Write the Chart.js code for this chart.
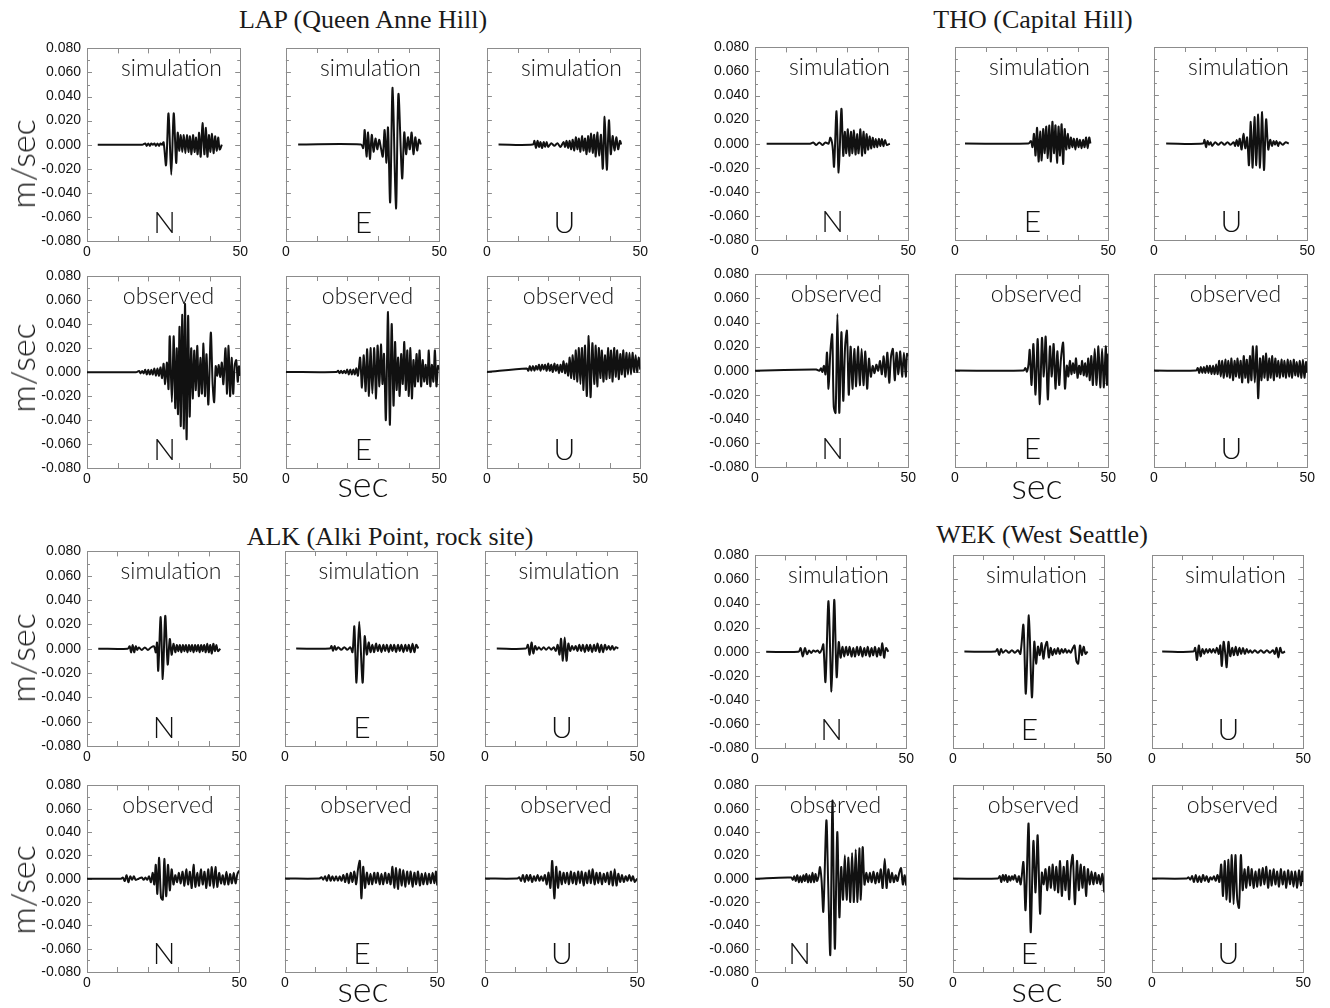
<!DOCTYPE html>
<html>
<head>
<meta charset="utf-8">
<script src="https://cdn.jsdelivr.net/npm/chart.js@4.4.1/dist/chart.umd.min.js"></script>
<style>
  body { margin: 0; background: #fff; width: 1330px; height: 1008px; position: relative; overflow: hidden; font-family: Lato, "Noto Sans", sans-serif; }
  canvas { position: absolute; }
  .t { position: absolute; white-space: nowrap; transform: translate(-50%, -50%); color: #111; line-height: 1; }
  .title { font-family: "Liberation Serif", "Times New Roman", serif; font-size: 26px; color: #1a1a1a; }
  .lbl { font-size: 23px; font-weight: 300; }
  .comp { font-size: 30px; font-weight: 300; }
  .ax { font-size: 36px; font-weight: 300; }
  .yt { transform: translate(-50%, -50%) rotate(-90deg); font-size: 34px; }
</style>
</head>
<body>
<script>
// values in mm/s (axis labels show m/s), time in sec: [t, v]
const lapSimN = [[3.5,0],[18,0],[19,1],[19.5,-1],[20,1],[20.5,-1],[21,1],[21.5,0],[22,1],[22.5,-1],[23,1],[23.5,-1],[24,1],[24.5,0],[25,2],[25.8,-17],[26.6,26],[27.5,-25],[28.3,26],[29.1,-15],[29.6,10],[30.1,-5],[30.6,8],[31.1,-6],[31.6,8],[32.1,-7],[32.6,8],[33.1,-6],[33.6,7],[34.1,-8],[34.6,8],[35.1,-6],[35.6,6],[36.1,-8],[36.6,10],[37.1,-10],[37.7,18],[38.3,-8],[38.8,14],[39.3,-10],[39.8,8],[40.3,-6],[40.8,9],[41.3,-7],[41.8,7],[42.3,-5],[42.8,6],[43.3,-4],[44,0]];
const lapSimE = [[4,0],[24.5,0],[25.2,-3],[25.7,12],[26.3,-10],[26.8,10],[27.4,-12],[28,8],[28.6,-6],[29.2,5],[29.8,-4],[30.4,4],[31,-3],[31.6,-10],[32.2,12],[32.8,-15],[33.3,14],[34,-48],[34.8,47],[35.9,-53],[36.7,42],[37.9,-28],[38.6,10],[39.2,-8],[39.8,6],[40.4,-4],[41,10],[41.6,-8],[42.2,6],[42.8,-5],[43.4,4],[44,0]];
const lapSimU = [[3.8,0],[15,0],[15.5,3],[16,-3],[16.5,3],[17,-2],[17.5,2],[18,-3],[18.5,2],[19,-2],[19.5,2],[20,-2],[21,1],[22,-1],[23,1],[24,-2],[25,2],[25.5,-2],[26,3],[26.5,-3],[27,3],[27.5,-4],[28,4],[28.5,-5],[29,6],[29.5,-4],[30,5],[30.5,-6],[31,7],[31.5,-5],[32,5],[32.5,-8],[33,7],[33.5,-6],[34,9],[34.5,-7],[35,8],[35.5,-10],[36,10],[36.6,-9],[37.2,8],[37.8,-20],[38.4,23],[39.1,-21],[39.8,20],[40.4,-8],[41,7],[41.6,-5],[42.2,6],[42.8,-4],[43.4,3],[43.8,0]];
const lapObsN = [[0,0],[16,0],[17,1],[17.5,-1],[18,1],[18.5,-1],[19,2],[19.5,-2],[20,2],[20.5,-2],[21,2],[21.5,-2],[22,3],[22.5,-3],[23,3],[23.5,-3],[24,4],[24.5,-5],[25,7],[25.5,-10],[26.1,8],[26.6,-14],[27,30],[27.7,-25],[28.3,30],[28.8,-30],[29.3,20],[29.7,-35],[30.2,38],[30.6,-45],[31.1,48],[31.6,-47],[32,57],[32.5,-56],[33,47],[33.5,-37],[34,20],[34.5,-22],[35,18],[35.5,-15],[36,22],[36.5,-20],[37,12],[37.5,-18],[38,24],[38.5,-20],[39,15],[39.6,-27],[40.4,33],[41,-10],[41.5,-25],[42,5],[42.5,-3],[43,6],[43.5,-4],[44,8],[44.5,-10],[45.2,20],[45.7,-18],[46.2,22],[46.7,-20],[47.2,12],[47.7,-18],[48.2,6],[48.7,10],[49.2,-8],[49.6,5],[50,-3]];
const lapObsE = [[0,0],[16.5,0],[17,1],[17.5,-1],[18,1],[18.5,-1],[19,1],[19.5,-1],[20,2],[20.5,-2],[21,2],[21.5,-2],[22,2],[22.5,-2],[23,3],[23.5,-3],[24.2,12],[24.8,-13],[25.4,14],[26,-16],[26.5,19],[27.1,-20],[27.6,20],[28.2,-18],[28.8,20],[29.4,-22],[29.9,22],[30.5,-12],[31,23],[31.5,-10],[32,15],[32.6,-40],[33.3,50],[33.9,-44],[34.5,40],[35.1,-28],[35.6,25],[36.1,-15],[36.6,12],[37.1,-20],[37.6,15],[38.1,-10],[38.6,25],[39.1,-15],[39.6,18],[40.1,-20],[40.6,20],[41.1,-22],[41.6,10],[42.1,-12],[42.6,15],[43.1,-8],[43.6,18],[44.1,-12],[44.6,10],[45.1,-8],[45.6,6],[46.1,-10],[46.6,18],[47.1,-12],[47.6,6],[48.1,-8],[48.6,18],[49.1,-12],[49.6,5],[50,2]];
const lapObsU = [[0,0],[13,3],[13.5,1],[14,5],[14.5,1],[15,5],[15.5,1],[16,5],[16.5,2],[17,6],[17.5,1],[18,6],[18.5,2],[19,6],[19.5,1],[20,7],[20.5,1],[21,6],[21.5,0],[22,7],[22.5,1],[23,6],[23.5,-1],[24,6],[24.5,0],[25,9],[25.5,-1],[26,7],[26.5,-3],[27,12],[27.5,-5],[28,14],[28.5,-6],[29,18],[29.5,-8],[30,20],[30.5,-10],[31,20],[31.5,-15],[32,22],[32.6,-20],[33.2,30],[33.8,-21],[34.4,24],[35,-10],[35.5,22],[36,-12],[36.5,20],[37,-5],[37.5,18],[38,-8],[38.5,14],[39,-6],[39.5,20],[40,-5],[40.5,18],[41,-8],[41.5,20],[42,-4],[42.5,18],[43,-6],[43.5,15],[44,-2],[44.5,18],[45,-4],[45.5,16],[46,-2],[46.5,16],[47,-2],[47.5,16],[48,0],[48.5,14],[49,0],[49.5,12],[50,2]];

const thoSimN = [[3.8,0],[18,0],[19,1],[20,-1],[21,1],[22,-1],[23,1],[24,0],[24.6,5],[25.3,-2],[25.8,-19],[26.6,27],[27.3,-24],[28.2,29],[28.8,-10],[29.3,10],[29.8,-8],[30.3,12],[30.8,-10],[31.3,10],[31.8,-8],[32.3,11],[32.8,-9],[33.3,8],[33.8,-8],[34.4,12],[34.9,-10],[35.4,10],[35.9,-8],[36.4,8],[36.9,-5],[37.4,6],[37.9,-4],[38.4,5],[38.9,-3],[39.4,4],[39.9,-3],[40.4,4],[40.9,-2],[41.4,4],[41.9,-2],[42.4,3],[43,-1],[44,0]];
const thoSimE = [[3.3,0],[24,0],[24.8,2],[25.3,-3],[25.8,8],[26.3,-10],[26.8,13],[27.3,-15],[27.8,10],[28.3,-14],[28.8,12],[29.3,-8],[29.8,14],[30.3,-12],[30.8,15],[31.3,-15],[31.8,18],[32.3,-8],[32.8,15],[33.3,-16],[33.8,14],[34.3,-10],[34.8,16],[35.3,-17],[35.8,12],[36.3,-5],[36.8,8],[37.3,-4],[37.8,5],[38.3,-3],[38.8,4],[39.3,-5],[39.8,4],[40.3,-3],[40.8,3],[41.3,-4],[41.8,3],[42.3,-3],[42.8,5],[43.3,-4],[43.8,5],[44.2,0]];
const thoSimU = [[4,0],[16,0],[16.5,3],[17,-3],[17.5,2],[18,-1],[18.5,1],[19,-2],[20,1],[21,-1],[22,1],[23,-1],[24,1],[25,-1],[26,1],[26.5,-2],[27,3],[27.5,-2],[28,4],[28.6,-5],[29.2,8],[29.8,-4],[30.4,5],[31,-18],[31.6,18],[32.2,-20],[32.8,22],[33.4,-18],[34,24],[34.6,-20],[35.3,26],[35.9,-22],[36.6,20],[37.3,-5],[37.9,3],[38.5,-2],[39,2],[39.5,-1],[40,2],[40.5,-2],[41,1],[42,-1],[43,1],[44,0]];
const thoObsN = [[0,0],[19,1],[20,1],[21,0],[21.5,2],[22,-1],[22.5,4],[23,-3],[23.5,15],[24,-15],[24.6,16],[25.2,30],[25.7,-30],[26.3,-35],[26.9,47],[27.5,-35],[28.2,32],[28.8,-25],[29.4,20],[30,33],[30.6,-20],[31.2,20],[31.8,-15],[32.4,18],[33,-13],[33.6,20],[34.2,-12],[34.8,18],[35.4,-12],[36,16],[36.6,-15],[37.2,10],[37.8,-5],[38.4,4],[39,-2],[39.6,5],[40.2,0],[40.8,8],[41.4,-3],[42,12],[42.6,-5],[43.2,15],[43.8,-10],[44.4,12],[45,18],[45.6,-8],[46.2,15],[46.8,-3],[47.4,16],[48,-5],[48.6,15],[49.2,-5],[49.6,14],[50,12]];
const thoObsE = [[0,0],[22.4,0],[23,2],[23.5,-1],[24,5],[24.4,17],[25,-12],[25.6,22],[26.3,-20],[27,26],[27.7,-28],[28.4,27],[29,-5],[29.6,28],[30.3,-24],[31,20],[31.6,-5],[32.2,22],[32.8,-15],[33.4,16],[34,-12],[34.6,10],[35.3,23],[35.9,-15],[36.5,4],[37,-5],[37.5,8],[38,-3],[38.5,6],[39,-2],[39.5,10],[40,-6],[40.5,4],[41,-3],[41.5,8],[42,-4],[42.5,6],[43,-5],[43.5,10],[44,-8],[44.5,12],[45,-12],[45.6,18],[46.2,-12],[46.8,20],[47.4,-14],[48,18],[48.6,-14],[49.2,20],[49.6,-12],[50,14]];
const thoObsU = [[0,0],[13.8,0],[14.3,2],[14.8,-2],[15.3,3],[15.8,-2],[16.3,3],[16.8,-2],[17.3,4],[17.8,-2],[18.3,4],[18.8,-3],[19.3,4],[19.8,-3],[20.3,5],[20.8,-3],[21.3,8],[21.8,-5],[22.3,8],[22.8,-6],[23.3,9],[23.8,-5],[24.3,8],[24.8,-6],[25.3,10],[25.8,-8],[26.3,8],[26.8,-5],[27.3,10],[27.8,-6],[28.3,8],[28.8,-10],[29.3,12],[29.8,-6],[30.3,9],[30.8,-10],[31.3,12],[31.8,-8],[32.3,20],[32.9,-10],[33.5,20],[34,-23],[34.6,10],[35.1,-8],[35.6,12],[36.1,-6],[36.6,14],[37.1,-8],[37.6,10],[38.1,-6],[38.6,12],[39.1,-8],[39.6,10],[40.1,-5],[40.6,8],[41.1,-6],[41.6,9],[42.1,-5],[42.6,8],[43.1,-6],[43.6,9],[44.1,-5],[44.6,8],[45.1,-6],[45.6,9],[46.1,-4],[46.6,7],[47.1,-5],[47.6,8],[48.1,-6],[48.6,9],[49.1,-6],[49.6,7],[50,-2]];

const alkSimN = [[3.7,0],[13.4,0],[14,2],[14.5,-3],[15,3],[15.5,-3],[16,2],[16.5,-1],[17,1],[18,-1],[19,1],[20,-1],[21,1],[22,2],[22.6,-3],[23,5],[23.4,-18],[24.2,26],[24.9,-25],[25.7,27],[26.5,-13],[27.2,8],[27.8,-5],[28.4,4],[29,-3],[29.5,3],[30,-2],[30.5,3],[31,-3],[31.5,3],[32,-2],[32.5,3],[33,-3],[33.5,3],[34,-2],[34.5,3],[35,-3],[35.5,3],[36,-2],[36.5,3],[37,-3],[37.5,3],[38,-2],[38.5,3],[39,-3],[39.5,4],[40,-3],[40.5,3],[41,-4],[41.5,4],[42,-2],[42.5,3],[43,-2],[43.8,0]];
const alkSimE = [[3.7,0],[14.8,0],[15.3,2],[15.8,-2],[16.3,2],[16.8,-1],[17.5,1],[18.5,-1],[19.5,1],[20.5,-1],[21.5,1],[22.2,-3],[22.8,18],[23.5,-28],[24.4,22],[25.5,-28],[26.2,10],[26.9,-5],[27.5,5],[28.1,-3],[28.7,3],[29.3,-3],[29.9,4],[30.5,-2],[31.1,3],[31.7,-3],[32.3,3],[32.9,-2],[33.5,3],[34.1,-3],[34.7,3],[35.3,-2],[35.9,3],[36.5,-3],[37.1,3],[37.7,-2],[38.3,3],[38.9,-3],[39.5,3],[40.1,-2],[40.7,3],[41.3,-3],[41.9,4],[42.5,-3],[43.1,3],[43.8,0]];
const alkSimU = [[3.9,0],[13.5,0],[14.1,3],[14.7,-5],[15.3,5],[15.9,-4],[16.5,2],[17.1,-1],[17.7,1],[18.5,-1],[19.3,1],[20.1,-1],[21,1],[21.8,-1],[22.6,1],[23.3,-2],[23.9,3],[24.5,-5],[25,8],[25.6,-10],[26.2,9],[26.8,-10],[27.4,4],[28,-2],[28.6,2],[29.2,-1],[29.8,2],[30.4,-2],[31,3],[31.6,-2],[32.2,3],[32.8,-3],[33.4,3],[34,-2],[34.6,3],[35.2,-3],[35.8,3],[36.4,-2],[37,4],[37.6,-3],[38.2,3],[38.8,-3],[39.4,3],[40,-1],[40.6,2],[41.2,-1],[41.8,2],[42.4,-1],[43,1],[43.8,0]];
const alkObsN = [[0,0],[11.2,0],[11.8,1],[12.4,-2],[13,3],[13.6,-3],[14.2,2],[14.8,-1],[15.4,2],[16,-1],[17,0],[18,1],[18.6,-1],[19.2,1],[19.8,-1],[20.4,2],[21,-3],[21.6,5],[22.1,-5],[22.6,12],[23.1,-13],[23.7,18],[24.3,-16],[24.9,-18],[25.4,17],[26,-15],[26.6,12],[27.2,-10],[27.8,8],[28.4,-5],[29,3],[29.6,-3],[30.2,5],[30.8,-4],[31.4,6],[32,-6],[32.6,8],[33.2,-5],[33.8,6],[34.4,-8],[35,12],[35.6,-7],[36.2,5],[36.8,-6],[37.4,8],[38,-5],[38.6,6],[39.2,-8],[39.8,8],[40.4,-6],[41,10],[41.6,-8],[42.2,10],[42.8,-7],[43.4,5],[44,-4],[44.6,3],[45.2,-5],[45.8,6],[46.4,-5],[47,4],[47.6,-4],[48.2,5],[48.8,-4],[49.4,4],[50,7]];
const alkObsE = [[0,0],[11.3,0],[12,1],[12.6,-1],[13.2,2],[13.8,-2],[14.4,3],[15,-2],[15.6,2],[16.2,-2],[16.8,2],[17.4,-2],[18,2],[18.6,-2],[19.2,3],[19.8,-3],[20.4,4],[21,-4],[21.6,5],[22.2,-3],[22.8,6],[23.4,-5],[24,8],[24.6,15],[25.1,-17],[25.7,10],[26.3,-8],[26.9,5],[27.5,-5],[28.1,4],[28.7,-5],[29.3,5],[29.9,-4],[30.5,5],[31.1,-5],[31.7,4],[32.3,-5],[32.9,5],[33.5,-4],[34.1,4],[34.7,-5],[35.3,10],[35.9,-8],[36.5,9],[37.1,-9],[37.7,8],[38.3,-6],[38.9,7],[39.5,-7],[40.1,6],[40.7,-5],[41.3,6],[41.9,-7],[42.5,5],[43.1,-5],[43.7,6],[44.3,-6],[44.9,4],[45.5,-5],[46.1,5],[46.7,-5],[47.3,4],[47.9,-4],[48.5,5],[49.1,-4],[49.6,6],[50,-6]];
const alkObsU = [[0,0],[10.7,0],[11.3,1],[11.9,-2],[12.5,3],[13.1,-3],[13.7,3],[14.3,-2],[14.9,3],[15.5,-3],[16.1,2],[16.7,-2],[17.3,3],[17.9,-2],[18.5,2],[19.1,-2],[19.7,3],[20.3,-5],[20.9,5],[21.5,-8],[22.1,15],[22.8,-17],[23.4,10],[24,-8],[24.6,6],[25.2,-5],[25.8,5],[26.4,-4],[27,5],[27.6,-5],[28.2,6],[28.8,-4],[29.4,5],[30,-5],[30.6,6],[31.2,-4],[31.8,6],[32.4,-6],[33,5],[33.6,-4],[34.2,7],[34.8,-4],[35.4,8],[36,-5],[36.6,5],[37.2,-4],[37.8,5],[38.4,-5],[39,4],[39.6,-3],[40.2,5],[40.8,-5],[41.4,6],[42,-6],[42.6,8],[43.2,-6],[43.8,4],[44.4,-3],[45,3],[45.6,-3],[46.2,2],[46.8,-2],[47.4,3],[48,-2],[48.6,2],[49.2,-3],[50,0]];

const wekSimN = [[3.7,0],[14.4,0],[15.1,3],[15.8,-4],[16.5,3],[17.2,-2],[17.9,1],[18.6,-1],[19.3,1],[20,0],[20.7,1],[21.4,-1],[22.1,2],[22.6,6],[23.3,-25],[24.3,42],[25.3,-33],[26.2,43],[27,-21],[27.7,8],[28.3,-5],[28.9,4],[29.5,-4],[30.1,4],[30.7,-3],[31.3,4],[31.9,-4],[32.5,3],[33.1,-4],[33.7,4],[34.3,-3],[34.9,4],[35.5,-4],[36.1,3],[36.7,-3],[37.3,4],[37.9,-4],[38.5,3],[39.1,-3],[39.7,4],[40.3,-4],[40.9,3],[41.5,-3],[42.1,7],[42.7,-5],[43.3,3],[44.1,0]];
const wekSimE = [[3.8,0],[14.1,0],[14.7,2],[15.3,-3],[15.9,2],[16.5,-1],[17.5,1],[18.5,-1],[19.5,1],[20.5,-1],[21.5,1],[22.3,-2],[23.3,22],[24.1,-35],[25.1,30],[26.1,-38],[26.9,8],[27.5,-10],[28.1,4],[28.7,-3],[29.3,7],[29.9,-6],[30.5,4],[31.1,8],[31.7,-5],[32.3,3],[32.9,-3],[33.5,2],[34.1,-2],[34.7,3],[35.3,-2],[35.9,2],[36.5,-1],[37.1,2],[37.7,-1],[38.3,1],[38.9,-1],[39.5,2],[40.2,5],[40.8,-8],[41.4,-10],[42,5],[42.6,-3],[43.2,4],[43.8,-2],[44.5,0]];
const wekSimU = [[3.4,0],[13.7,0],[14.3,3],[14.9,-7],[15.5,5],[16.1,-4],[16.7,2],[17.3,-2],[17.9,2],[18.5,-1],[19.1,2],[19.7,-1],[20.3,2],[20.9,-1],[21.5,3],[22.1,-2],[22.6,5],[23.1,-12],[23.7,8],[24.3,-3],[24.7,-13],[25.3,8],[25.9,-4],[26.5,3],[27.1,-3],[27.7,4],[28.3,-3],[28.9,3],[29.5,-2],[30.1,3],[30.7,-2],[31.3,2],[31.9,-1],[32.5,1],[33.1,-1],[34,1],[35,-1],[36,1],[37,-1],[38,1],[39,-1],[40,1],[40.6,-2],[41.2,3],[41.8,-5],[42.4,3],[43,-1],[44,0]];
const wekObsN = [[0,0],[12,1],[12.5,-1],[13,2],[13.5,-2],[14,3],[14.5,-3],[15,2],[15.5,-3],[16,3],[16.5,-2],[17,4],[17.5,-3],[18,3],[18.5,-3],[19,5],[19.5,-3],[20,4],[20.5,-2],[21,2],[21.5,10],[22,-1],[22.6,-28],[23.6,50],[24.2,-5],[24.9,-65],[25.6,67],[26.4,-60],[27.2,40],[27.9,-33],[28.5,10],[29.1,-18],[29.7,20],[30.3,-18],[30.9,18],[31.5,-20],[32.1,22],[32.7,-20],[33.3,25],[33.9,-20],[34.5,26],[35,-18],[35.6,27],[36.2,-5],[36.8,5],[37.4,-3],[38,5],[38.6,-3],[39.2,6],[39.8,-4],[40.4,5],[41,-3],[41.6,8],[42.2,-8],[42.9,17],[43.5,-8],[44.1,8],[44.7,-3],[45.3,5],[45.9,-3],[46.5,3],[47.1,-2],[47.7,5],[48.3,9],[48.9,-5],[49.5,3],[50,-6]];
const wekObsE = [[0,0],[14.9,0],[15.5,2],[16,-3],[16.5,3],[17,-2],[17.5,3],[18,-3],[18.5,2],[19,-2],[19.5,2],[20,-1],[20.5,3],[21.2,-3],[21.8,2],[22.4,-5],[23.3,14],[24,-27],[25,47],[25.7,-46],[26.6,32],[27.3,-12],[28,37],[28.8,-30],[29.4,5],[30,-5],[30.6,8],[31.2,-10],[31.8,10],[32.4,-8],[33,12],[33.6,-10],[34.2,10],[34.8,-12],[35.4,15],[36,-15],[36.6,10],[37.2,-10],[37.8,15],[38.4,-18],[39,10],[39.6,20],[40.3,-22],[41,15],[41.6,-10],[42.2,12],[42.8,-8],[43.4,10],[44,-15],[44.6,8],[45.2,-5],[45.8,6],[46.4,-5],[47,5],[47.6,-4],[48.2,3],[48.8,-5],[49.4,4],[50,-12]];
const wekObsU = [[0,0],[11.5,0],[12.1,1],[12.7,-1],[13.3,2],[13.9,-3],[14.5,3],[15.1,-3],[15.7,2],[16.3,-3],[16.9,3],[17.5,-2],[18.1,2],[18.7,-3],[19.3,1],[19.9,-1],[20.5,2],[21.1,-2],[21.7,3],[22.3,-3],[22.9,12],[23.5,-15],[24.1,15],[24.7,-18],[25.3,16],[25.8,-20],[26.4,20],[27,-22],[27.6,20],[28.2,-18],[28.8,-25],[29.4,20],[30,-10],[30.6,8],[31.2,-8],[31.8,10],[32.4,-6],[33,8],[33.6,-8],[34.2,6],[34.8,-7],[35.4,8],[36,-6],[36.6,9],[37.2,-5],[37.8,10],[38.4,-8],[39,7],[39.6,-6],[40.2,8],[40.8,-5],[41.4,6],[42,-7],[42.6,8],[43.2,-5],[43.8,6],[44.4,-8],[45,7],[45.6,-5],[46.2,6],[46.8,-7],[47.4,6],[48,-8],[48.6,7],[49.2,-6],[49.7,6],[50,-3]];

const components = ["N", "E", "U"];
const rowNames = ["simulation", "observed"];
const xTicks = [10, 20, 30, 40];
const yTicks = [-70, -60, -50, -40, -30, -20, -10, 0, 10, 20, 30, 40, 50, 60, 70];

// page layout (pixels)
const stations = [
  { title: "LAP (Queen Anne Hill)", tx: 363, ty: 20, lefts: [87, 286, 487], w: 153,
    rows: [[48, 241], [276, 468]], yTitle: [164, 368], sec: [363, 483],
    traces: [[lapSimN, lapSimE, lapSimU], [lapObsN, lapObsE, lapObsU]] },
  { title: "THO (Capital Hill)", tx: 1033, ty: 20, lefts: [755, 955, 1154], w: 153,
    rows: [[47, 240], [274, 467]], yTitle: null, sec: [1037, 485],
    traces: [[thoSimN, thoSimE, thoSimU], [thoObsN, thoObsE, thoObsU]] },
  { title: "ALK (Alki Point, rock site)", tx: 390, ty: 537, lefts: [87, 285, 485], w: 152,
    rows: [[551, 746], [785, 972]], yTitle: [658, 890], sec: [363, 988],
    traces: [[alkSimN, alkSimE, alkSimU], [alkObsN, alkObsE, alkObsU]] },
  { title: "WEK (West Seattle)", tx: 1042, ty: 535, lefts: [755, 953, 1152], w: 151,
    rows: [[555, 748], [785, 972]], yTitle: null, sec: [1037, 988],
    traces: [[wekSimN, wekSimE, wekSimU], [wekObsN, wekObsE, wekObsU]] }
];

function addText(txt, cls, x, y) {
  const d = document.createElement("div");
  d.className = "t " + cls;
  d.textContent = txt;
  d.style.left = x + "px";
  d.style.top = y + "px";
  document.body.appendChild(d);
}

const framePlugin = {
  id: "frame",
  beforeDatasetsDraw(chart) {
    const { ctx, chartArea: a, scales: { x, y } } = chart;
    ctx.save();
    ctx.strokeStyle = "#8c8c8c";
    ctx.lineWidth = 1;
    ctx.strokeRect(Math.round(a.left) + 0.5, Math.round(a.top) + 0.5,
      Math.round(a.right - a.left), Math.round(a.bottom - a.top));
    ctx.beginPath();
    xTicks.forEach(v => {
      const px = Math.round(x.getPixelForValue(v)) + 0.5;
      ctx.moveTo(px, a.top); ctx.lineTo(px, a.top + 5);
      ctx.moveTo(px, a.bottom); ctx.lineTo(px, a.bottom - 5);
    });
    yTicks.forEach(v => {
      const py = Math.round(y.getPixelForValue(v)) + 0.5;
      const len = v % 20 === 0 ? 5 : 3;
      ctx.moveTo(a.left, py); ctx.lineTo(a.left + len, py);
      ctx.moveTo(a.right, py); ctx.lineTo(a.right - len, py);
    });
    ctx.stroke();
    ctx.restore();
  }
};

const tickFont = { family: "Liberation Sans, Arial, sans-serif", size: 14 };

function buildChart(cv, pts, labeled) {
  return new Chart(cv, {
    type: "line",
    data: {
      datasets: [{
        data: pts.map(p => ({ x: p[0], y: p[1] })),
        borderColor: "#111",
        borderWidth: 2,
        pointRadius: 0,
        tension: 0.3,
        fill: false
      }]
    },
    options: {
      responsive: false,
      maintainAspectRatio: false,
      animation: false,
      events: [],
      layout: { padding: { left: 4, right: 10, top: 6, bottom: 0 } },
      plugins: { legend: { display: false }, tooltip: { enabled: false } },
      scales: {
        x: {
          type: "linear", min: 0, max: 50,
          grid: { display: false, drawTicks: false }, border: { display: false },
          ticks: {
            stepSize: 10, maxRotation: 0, padding: 3, color: "#111", font: tickFont,
            callback: v => (v === 0 || v === 50) ? String(v) : ""
          },
          afterFit: s => { s.height = 20; }
        },
        y: {
          min: -80, max: 80,
          grid: { display: false, drawTicks: false }, border: { display: false },
          ticks: {
            display: labeled, stepSize: 20, padding: 6, color: "#111", font: tickFont,
            callback: v => (v / 1000).toFixed(3)
          },
          afterFit: s => { s.width = labeled ? 50 : 0; }
        }
      }
    },
    plugins: [framePlugin]
  });
}

function makePanel(left, top, w, h, pts, labeled) {
  const cv = document.createElement("canvas");
  document.body.appendChild(cv);
  let cw = w + (labeled ? 56 : 6) + 12;
  let ch = h + 28;
  cv.width = cw; cv.height = ch;
  cv.style.width = cw + "px"; cv.style.height = ch + "px";
  let chart = buildChart(cv, pts, labeled);
  let a = chart.chartArea;
  const nw = Math.round(cw + w - (a.right - a.left));
  const nh = Math.round(ch + h - (a.bottom - a.top));
  if (nw !== cw || nh !== ch) {
    chart.destroy();
    cw = nw; ch = nh;
    cv.width = cw; cv.height = ch;
    cv.style.width = cw + "px"; cv.style.height = ch + "px";
    chart = buildChart(cv, pts, labeled);
    a = chart.chartArea;
  }
  cv.style.left = Math.round(left - a.left) + "px";
  cv.style.top = Math.round(top - a.top) + "px";
}

stations.forEach(st => {
  addText(st.title, "title", st.tx, st.ty);
  st.rows.forEach(([top, bottom], r) => {
    st.lefts.forEach((left, c) => {
      makePanel(left, top, st.w, bottom - top, st.traces[r][c], c === 0);
      const cx = left + st.w / 2;
      addText(rowNames[r], "lbl", cx + (r === 0 ? 8 : 5), top + 19);
      let lx = cx;
      if (st.title.startsWith("WEK") && r === 1 && c === 0) lx = cx - 32;
      addText(components[c], "comp", lx + 1, bottom - 20);
    });
    if (st.yTitle) addText("m/sec", "ax yt", 22, st.yTitle[r]);
  });
  addText("sec", "ax", st.sec[0], st.sec[1]);
});
</script>
</body>
</html>
